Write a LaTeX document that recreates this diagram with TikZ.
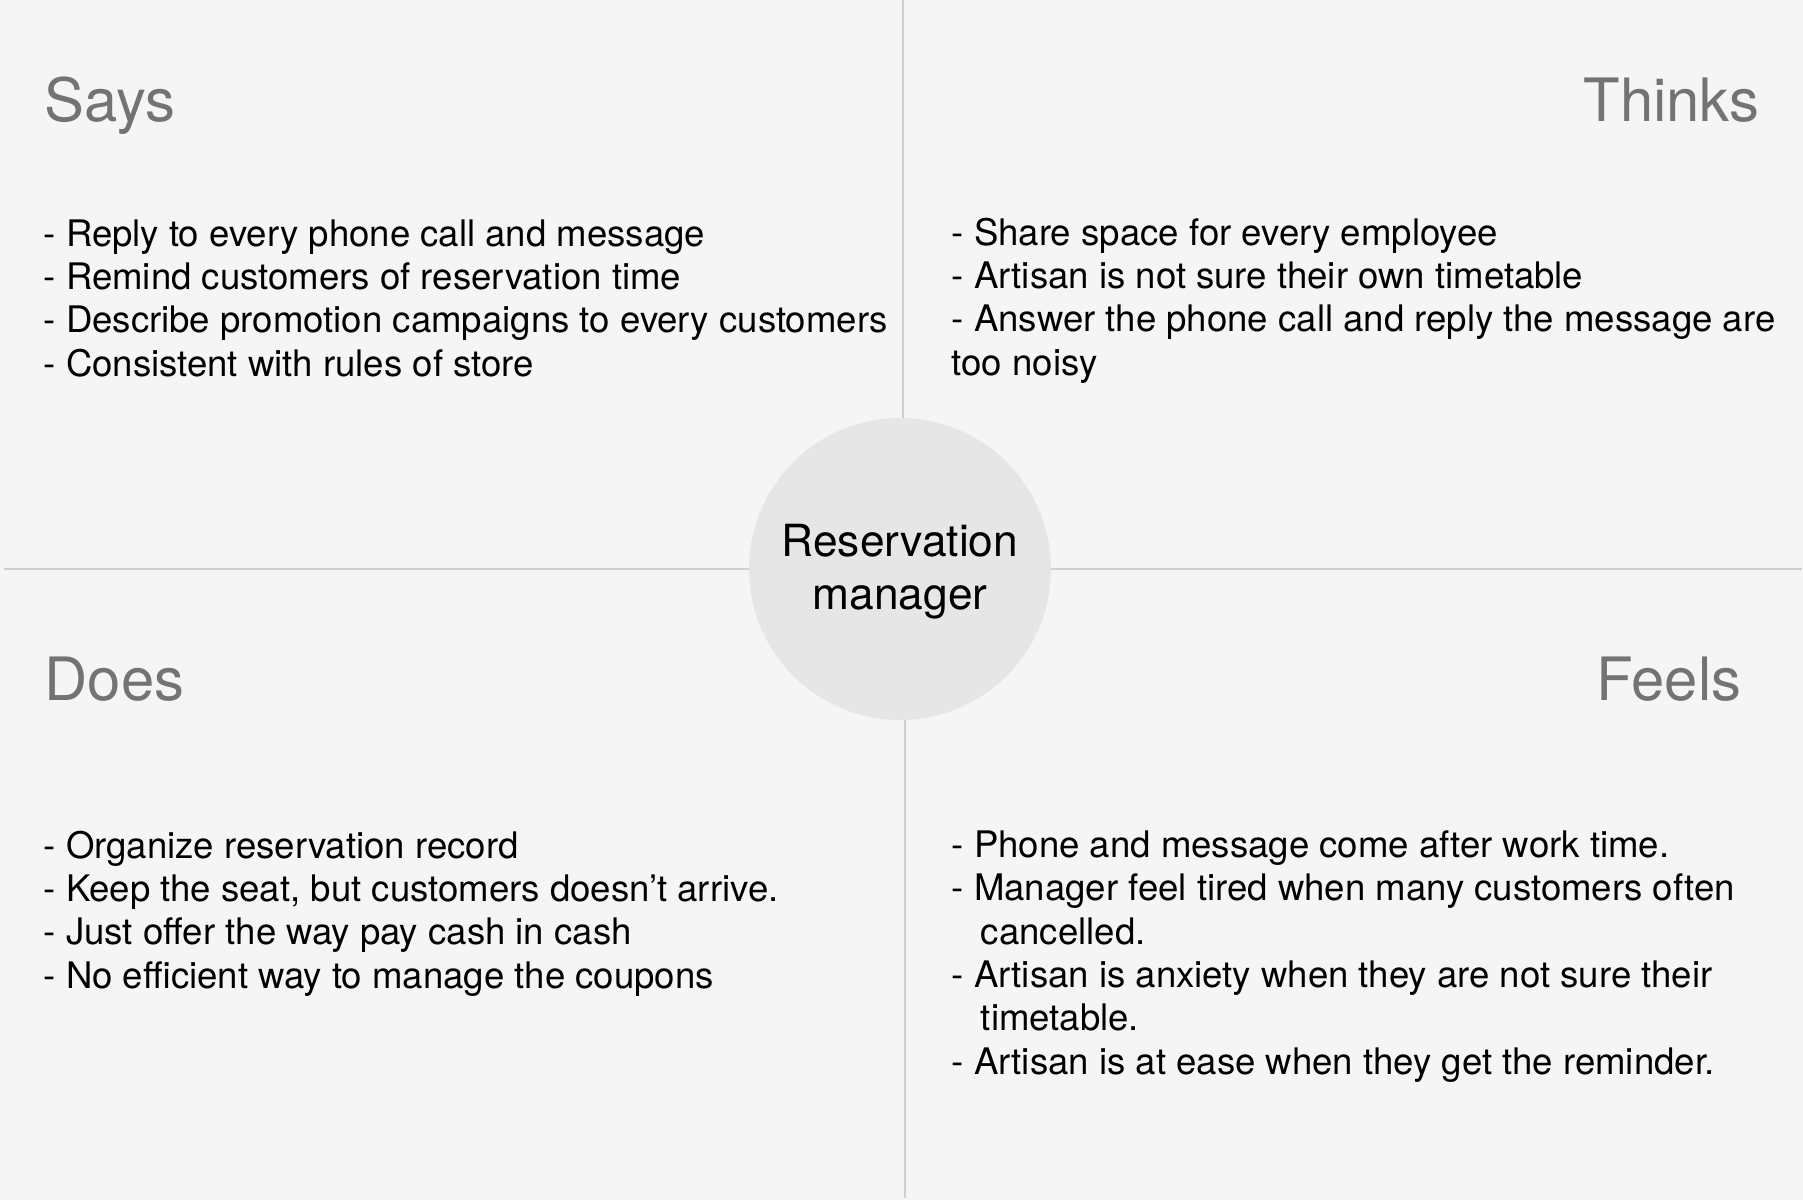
\documentclass[tikz,border=0pt]{standalone}
\usepackage{fontspec}
\setmainfont{TeX Gyre Heros}
\definecolor{paper}{HTML}{F5F5F5}
\definecolor{rule}{HTML}{CFCFCF}
\definecolor{hubfill}{HTML}{E6E6E6}
\definecolor{heading}{HTML}{737373}
\tikzset{
    quadtitle/.style={text=heading, font=\fontsize{17}{20}\selectfont, inner sep=0pt},
    quadtext/.style={align=left, anchor=base west, inner sep=0pt, font=\fontsize{10.4}{12.3}\selectfont},
    divider/.style={draw=rule, line width=0.45pt},
}
\begin{document}
\begin{tikzpicture}[x=0.01cm, y=-0.01cm]
        \fill[paper] (0,0) rectangle (1803,1200);
        \useasboundingbox (0,0) rectangle (1803,1200);
        % quadrant dividers
        \draw[divider] (903,0) -- (903,569);
        \draw[divider] (905,569) -- (905,1198);
        \draw[divider] (4,569) -- (1802,569);
        % persona in the middle
        \node[circle, fill=hubfill, minimum size=302*0.01cm] (hub) at (900,569) {};
        \node[align=center, font=\fontsize{12.6}{15}\selectfont] (hubtext) at (900,572) {Reservation\\manager};
        % titles
        \node[quadtitle, anchor=base west] (says) at (44,121) {Says};
        \node[quadtitle, anchor=base east] (thinks) at (1760,121) {Thinks};
        \node[quadtitle, anchor=base west] (does) at (44,700) {Does};
        \node[quadtitle, anchor=base east] (feels) at (1742,700) {Feels};
        % lists (anchored on the baseline of their last line)
        \node[quadtext] (saystext) at (43,376) {- Reply to every phone call and message\\
            - Remind customers of reservation time\\
            - Describe promotion campaigns to every customers\\
            - Consistent with rules of store};
        \node[quadtext] (thinkstext) at (951,375) {- Share space for every employee\\
            - Artisan is not sure their own timetable\\
            - Answer the phone call and reply the message are\\
            too noisy};
        \node[quadtext] (doestext) at (43,988) {- Organize reservation record\\
            - Keep the seat, but customers doesn’t arrive.\\
            - Just offer the way pay cash in cash\\
            - No efficient way to manage the coupons};
        \node[quadtext] (feelstext) at (951,1074) {- Phone and message come after work time.\\
            - Manager feel tired when many customers often\\
            \hspace*{0.8em}cancelled.\\
            - Artisan is anxiety when they are not sure their\\
            \hspace*{0.8em}timetable.\\
            - Artisan is at ease when they get the reminder.};
    \end{tikzpicture}
\end{document}
